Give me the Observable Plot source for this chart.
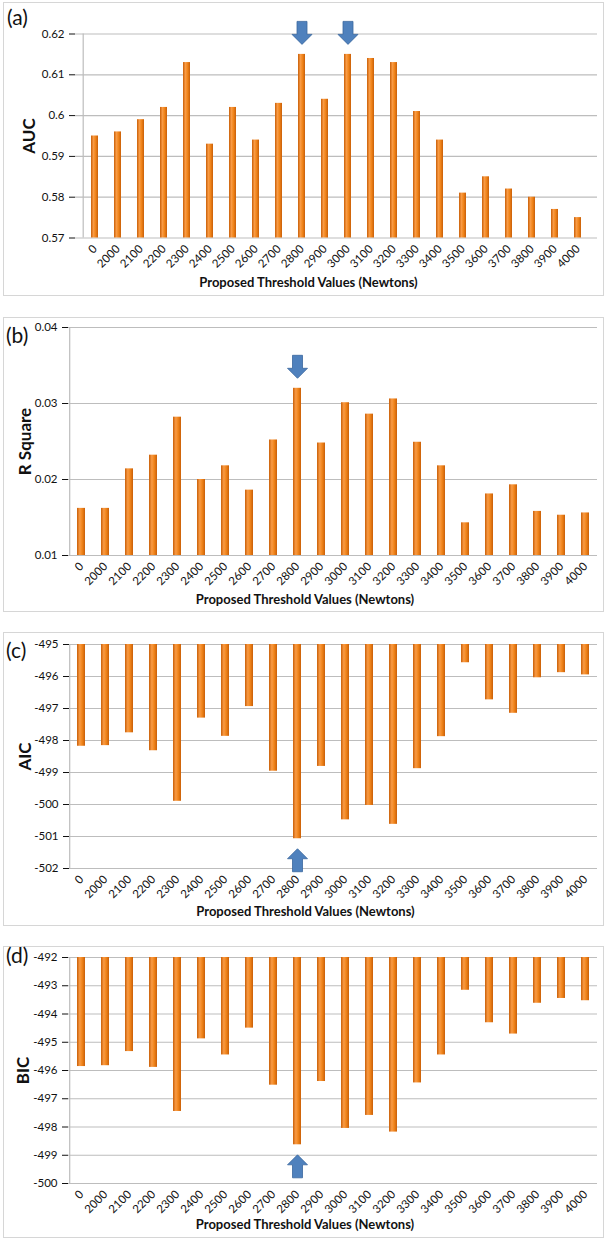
<!DOCTYPE html>
<html>
<head>
<meta charset="utf-8">
<script src="https://cdn.jsdelivr.net/npm/d3@7"></script>
<script src="https://cdn.jsdelivr.net/npm/@observablehq/plot@0.6"></script>
<style>
  html, body { margin: 0; padding: 0; background: #fff; }
  #page { position: relative; width: 607px; height: 1241px; overflow: hidden; font-family: Lato, "Open Sans", sans-serif; }
  .box { position: absolute; border: 1.5px solid #d6d6d6; box-sizing: border-box; }
  .panel-label { position: absolute; font-size: 21px; color: #111; line-height: 1; }
  .plot { position: absolute; left: 0; }
  .plot svg [aria-label="y-axis label"] { font-weight: bold; font-size: 17px; }
</style>
</head>
<body>
<div id="page"></div>
<script>
// ---------- data ----------
const categories = ["0","2000","2100","2200","2300","2400","2500","2600","2700","2800","2900",
                    "3000","3100","3200","3300","3400","3500","3600","3700","3800","3900","4000"];
const aucValues = [0.595,0.596,0.599,0.602,0.613,0.593,0.602,0.594,0.603,0.615,0.604,
                   0.615,0.614,0.613,0.601,0.594,0.581,0.585,0.582,0.580,0.577,0.575];
const rsqValues = [0.0162,0.0162,0.0214,0.0232,0.0282,0.0200,0.0218,0.0186,0.0252,0.0320,0.0248,
                   0.0301,0.0286,0.0306,0.0249,0.0218,0.0143,0.0181,0.0193,0.0158,0.0153,0.0156];
const aicValues = [-498.18,-498.16,-497.76,-498.32,-499.90,-497.30,-497.87,-496.94,-498.96,-501.07,-498.81,
                   -500.48,-500.03,-500.62,-498.88,-497.88,-495.57,-496.73,-497.15,-496.04,-495.88,-495.95];
const bicValues = [-495.86,-495.83,-495.33,-495.89,-497.45,-494.88,-495.45,-494.50,-496.52,-498.63,-496.39,
                   -498.05,-497.59,-498.18,-496.44,-495.45,-493.16,-494.31,-494.71,-493.62,-493.45,-493.53];
const aucTicks = [0.57,0.58,0.59,0.6,0.61,0.62];
const rsqTicks = [0.01,0.02,0.03,0.04];
const aicTicks = [-502,-501,-500,-499,-498,-497,-496,-495];
const bicTicks = [-500,-499,-498,-497,-496,-495,-494,-493,-492];
const aucMarked = ["2800","3000"];
const rsqMarked = ["2800"];
const aicMarked = ["2800"];
const bicMarked = ["2800"];
const panelLabels = ["(a)","(b)","(c)","(d)"];
const yLabels = ["AUC","R Square","AIC","BIC"];
const xLabel = "Proposed Threshold Values (Newtons)";

// ---------- arrow symbols (tip at origin) ----------
const downArrow = { draw(ctx) {
  ctx.moveTo(-5,-23); ctx.lineTo(5,-23); ctx.lineTo(5,-10); ctx.lineTo(10,-10);
  ctx.lineTo(0,0); ctx.lineTo(-10,-10); ctx.lineTo(-5,-10); ctx.closePath(); } };
const upArrow = { draw(ctx) {
  ctx.moveTo(-5,23); ctx.lineTo(5,23); ctx.lineTo(5,10); ctx.lineTo(10,10);
  ctx.lineTo(0,0); ctx.lineTo(-10,10); ctx.lineTo(-5,10); ctx.closePath(); } };

const panels = [
  {values: aucValues, ticks: aucTicks, marked: aucMarked, hang: false,
   box: [2, 296], ml: 75, mt: 31.5, mb: 58.5, ylo: 53, xdy: 49, labelTop: 6, labelLeft: 7},
  {values: rsqValues, ticks: rsqTicks, marked: rsqMarked, hang: false,
   box: [317, 612], ml: 68, mt: 10, mb: 57, ylo: 50, xdy: 48, labelTop: 324, labelLeft: 6},
  {values: aicValues, ticks: aicTicks, marked: aicMarked, hang: true,
   box: [632, 926], ml: 69, mt: 12, mb: 58, ylo: 51, xdy: 47, labelTop: 639, labelLeft: 6},
  {values: bicValues, ticks: bicTicks, marked: bicMarked, hang: true,
   box: [946, 1238], ml: 68, mt: 11, mb: 55, ylo: 52, xdy: 45, labelTop: 944, labelLeft: 6}
];

const page = document.getElementById("page");
const W = 607;

panels.forEach((p, i) => {
  const rows = categories.map((c, j) => ({cat: c, v: p.values[j]}));
  const lo = d3.min(p.ticks), hi = d3.max(p.ticks);
  const base = p.hang ? hi : lo;
  const marks = rows.filter(r => p.marked.includes(r.cat));
  const height = p.box[1] - p.box[0];

  const box = document.createElement("div");
  box.className = "box";
  box.style.left = "3px"; box.style.width = "601px";
  box.style.top = p.box[0] + "px"; box.style.height = height + "px";
  page.appendChild(box);

  const chart = Plot.plot({
    width: W, height,
    marginLeft: p.ml, marginRight: 10, marginTop: p.mt, marginBottom: p.mb,
    style: {fontFamily: "Lato, 'Open Sans', sans-serif", fontSize: "11.5px", color: "#111", background: "transparent", overflow: "visible"},
    x: {type: "band", domain: categories, padding: 0, tickSize: 0, tickPadding: 9, tickRotate: -45, label: null},
    y: {domain: [lo, hi], ticks: p.ticks, tickFormat: d => String(d), tickSize: 6, tickPadding: 5,
        label: yLabels[i], labelAnchor: "center", labelOffset: p.ylo, labelArrow: "none"},
    marks: [
      Plot.ruleY(p.ticks, {stroke: "#bdbdbd", strokeWidth: 1.2}),
      Plot.ruleX([0], {x: () => categories[0], stroke: "#bdbdbd", strokeWidth: 1.2, dx: -11.8, y1: lo, y2: hi}),
      Plot.barY(rows, {x: "cat", y1: () => base, y2: "v", fill: `url(#barGrad${i})`, insetLeft: 8, insetRight: 8}),
      Plot.dot(marks, {x: "cat", y: "v", symbol: p.hang ? upArrow : downArrow,
        dy: p.hang ? 10 : -10, fill: "#4f81bd", stroke: "#3a679e", strokeWidth: 0.8}),
      Plot.text([xLabel], {frameAnchor: "bottom", dx: -28, dy: p.xdy, fontWeight: "bold", fontSize: 13, fill: "#111"})
    ]
  });
  // gradient for the cylinder-like bars
  const svg = d3.select(chart.tagName.toLowerCase() === "svg" ? chart : chart.querySelector("svg"));
  const grad = svg.insert("defs", ":first-child").append("linearGradient")
    .attr("id", `barGrad${i}`).attr("x1", 0).attr("x2", 1).attr("y1", 0).attr("y2", 0);
  grad.append("stop").attr("offset", "0").attr("stop-color", "#c95f08");
  grad.append("stop").attr("offset", "0.35").attr("stop-color", "#f99b45");
  grad.append("stop").attr("offset", "0.65").attr("stop-color", "#f0841a");
  grad.append("stop").attr("offset", "1").attr("stop-color", "#c95f08");

  const holder = document.createElement("div");
  holder.className = "plot";
  holder.style.top = p.box[0] + "px";
  holder.appendChild(chart);
  page.appendChild(holder);

  const lab = document.createElement("div");
  lab.className = "panel-label";
  lab.textContent = panelLabels[i];
  lab.style.top = p.labelTop + "px"; lab.style.left = p.labelLeft + "px";
  page.appendChild(lab);
});
</script>
</body>
</html>
